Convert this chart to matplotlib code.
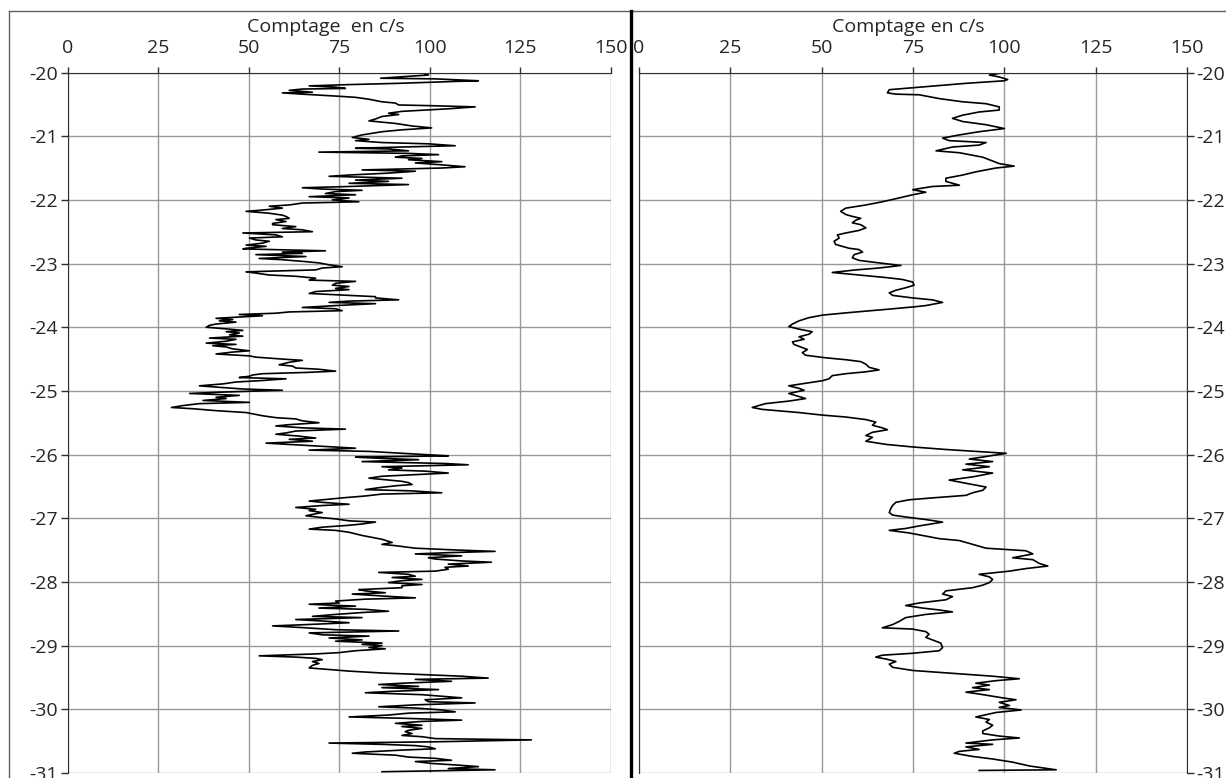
import matplotlib
matplotlib.use("Agg")
import matplotlib.pyplot as plt
from matplotlib.lines import Line2D

left_depth = [
    -20.00, -20.04, -20.06, -20.09, -20.10, -20.13, -20.14, -20.17, -20.19, -20.21,
    -20.23, -20.25, -20.26, -20.28, -20.31, -20.32, -20.34, -20.37, -20.39, -20.42,
    -20.46, -20.48, -20.51, -20.52, -20.54, -20.57, -20.59, -20.61, -20.64, -20.66,
    -20.69, -20.73, -20.76, -20.80, -20.84, -20.87, -20.90, -20.93, -20.98,
    -21.02, -21.05, -21.07, -21.10, -21.12, -21.15, -21.17, -21.19, -21.20, -21.23,
    -21.25, -21.27, -21.29, -21.31, -21.33, -21.35, -21.37, -21.40, -21.42, -21.45,
    -21.48, -21.50, -21.53, -21.55, -21.58, -21.61, -21.63, -21.66, -21.69, -21.71,
    -21.74, -21.76, -21.79, -21.81, -21.83, -21.85, -21.87, -21.90, -21.92, -21.95,
    -21.97, -22.00, -22.03, -22.05, -22.08, -22.10, -22.13, -22.16, -22.18, -22.21,
    -22.24, -22.26, -22.29, -22.31, -22.34, -22.37, -22.39, -22.42, -22.45, -22.47,
    -22.50, -22.52, -22.55, -22.58, -22.60, -22.63, -22.65, -22.68, -22.71, -22.73,
    -22.76, -22.77, -22.80, -22.82, -22.84, -22.86, -22.89, -22.92, -22.94, -22.97,
    -22.99, -23.02, -23.05, -23.07, -23.10, -23.13, -23.15, -23.18, -23.20, -23.23,
    -23.26, -23.28, -23.31, -23.34, -23.36, -23.39, -23.41, -23.44, -23.47, -23.49,
    -23.52, -23.54, -23.57, -23.59, -23.61, -23.63, -23.66, -23.69, -23.71, -23.74,
    -23.76, -23.78, -23.80, -23.82, -23.84, -23.86, -23.88, -23.90, -23.92, -23.95,
    -23.97, -24.00, -24.03, -24.05, -24.07, -24.09, -24.12, -24.14, -24.17, -24.19,
    -24.22, -24.25, -24.27, -24.29, -24.31, -24.34, -24.37, -24.39, -24.42, -24.45,
    -24.47, -24.50, -24.52, -24.55, -24.59, -24.61, -24.64, -24.66, -24.69, -24.71,
    -24.73, -24.75, -24.77, -24.79, -24.81, -24.84, -24.86, -24.89, -24.92, -24.94,
    -24.97, -24.99, -25.02, -25.04, -25.07, -25.10, -25.12, -25.15, -25.18, -25.20,
    -25.23, -25.26, -25.28, -25.31, -25.34, -25.36, -25.39, -25.42, -25.44, -25.47,
    -25.50, -25.53, -25.55, -25.58, -25.60, -25.63, -25.66, -25.68, -25.71, -25.74,
    -25.76, -25.79, -25.82, -25.84, -25.87, -25.90, -25.93, -25.95, -25.98, -26.00,
    -26.02, -26.04, -26.06, -26.08, -26.11, -26.14, -26.16, -26.19, -26.21, -26.24,
    -26.26, -26.29, -26.32, -26.34, -26.37, -26.39, -26.42, -26.44, -26.47, -26.49,
    -26.52, -26.55, -26.57, -26.60, -26.62, -26.65, -26.68, -26.70, -26.73, -26.75,
    -26.78, -26.80, -26.83, -26.86, -26.88, -26.91, -26.93, -26.96, -26.99, -27.01,
    -27.04, -27.06, -27.09, -27.11, -27.14,
    -27.17, -27.19, -27.22, -27.27, -27.33, -27.38, -27.41, -27.43, -27.47, -27.50,
    -27.52, -27.54, -27.56, -27.59, -27.62, -27.64, -27.67, -27.69, -27.72, -27.75,
    -27.77, -27.80, -27.83, -27.85, -27.88, -27.91, -27.93, -27.96, -27.98, -28.01,
    -28.04, -28.06, -28.09, -28.12, -28.14, -28.17, -28.19, -28.22, -28.25, -28.27,
    -28.30, -28.33, -28.35, -28.38, -28.41, -28.43, -28.46, -28.48, -28.51, -28.54,
    -28.56, -28.59, -28.62, -28.64, -28.67, -28.69, -28.72, -28.75, -28.77, -28.80,
    -28.83, -28.85, -28.88, -28.91, -28.93, -28.96, -28.98, -29.00, -29.03, -29.05,
    -29.08, -29.11, -29.13, -29.16, -29.18, -29.20, -29.22, -29.25, -29.28, -29.31,
    -29.35, -29.37, -29.40, -29.43, -29.45, -29.48, -29.51, -29.53, -29.56, -29.59,
    -29.61, -29.64, -29.66, -29.69, -29.72, -29.74, -29.77, -29.80, -29.82, -29.85,
    -29.88, -29.90, -29.93, -29.96, -29.98, -30.01, -30.04, -30.06, -30.09, -30.12,
    -30.14, -30.17, -30.19, -30.22, -30.25, -30.27, -30.30, -30.33, -30.35, -30.38,
    -30.41, -30.43, -30.46, -30.48, -30.51, -30.53, -30.55, -30.57, -30.59, -30.62,
    -30.64, -30.67, -30.69, -30.72, -30.75, -30.77, -30.80, -30.82, -30.85, -30.88,
    -30.90, -30.93, -30.95, -30.98,
]
left_counts = [
    97.8, 99.6, 94.1, 86.4, 101.5, 113.4, 107.0, 91.4, 77.7, 66.7,
    74.0, 76.7, 64.8, 61.2, 67.6, 59.3, 64.8, 74.0, 79.5, 83.2,
    86.8, 90.5, 91.4, 99.6, 112.5, 105.1, 98.7, 92.3, 88.6, 91.4,
    86.8, 85.0, 83.2, 90.5, 95.1, 100.5, 92.3, 86.8, 81.3,
    78.6, 83.2, 79.5, 86.8, 99.6, 107.0, 92.3, 79.5, 88.6, 94.1,
    69.4, 94.1, 102.4, 92.3, 90.5, 97.8, 94.1, 103.3, 96.0, 103.3,
    109.7, 103.3, 81.3, 96.0, 88.6, 77.7, 72.2, 92.3, 79.5, 88.6,
    77.7, 94.1, 77.7, 64.8, 70.3, 81.3, 74.0, 71.2, 79.5, 66.7,
    77.7, 73.1, 80.4, 64.8, 61.2, 55.7, 59.3, 53.8, 49.3, 55.7,
    59.3, 60.3, 61.2, 57.5, 60.3, 56.6, 56.6, 63.0, 59.3, 64.8,
    67.6, 48.4, 57.5, 59.3, 50.2, 52.0, 55.7, 53.8, 49.3, 54.8,
    49.3, 48.4, 71.2, 59.3, 64.8, 52.0, 65.8, 52.9, 59.3, 65.8,
    69.4, 72.2, 75.8, 70.3, 68.5, 49.3, 52.0, 55.7, 63.0, 68.5,
    66.7, 79.5, 74.0, 73.1, 77.7, 74.0, 77.7, 68.5, 66.7, 74.0,
    85.0, 85.0, 91.4, 77.7, 72.2, 85.0, 74.0, 64.8, 74.0, 75.8,
    61.2, 57.5, 47.4, 53.8, 47.4, 41.0, 45.6, 41.9, 46.5, 41.0,
    39.2, 38.3, 44.7, 48.4, 43.8, 47.4, 44.7, 48.4, 39.2, 46.5,
    43.8, 38.3, 46.5, 40.1, 43.8, 45.6, 50.2, 45.6, 41.0, 50.2,
    52.0, 59.3, 64.8, 61.2, 58.4, 62.1, 63.0, 69.4, 74.0, 65.8,
    53.8, 51.1, 50.2, 47.4, 60.3, 52.9, 46.5, 42.9, 36.4, 41.0,
    48.4, 59.3, 41.9, 33.7, 47.4, 41.0, 43.8, 37.4, 50.2, 36.4,
    31.9, 28.7, 34.6, 41.0, 49.3, 51.1, 53.8, 57.5, 63.0, 64.8,
    69.4, 61.2, 57.5, 64.8, 76.7, 63.0, 60.3, 57.5, 63.9, 68.5,
    61.2, 67.6, 54.8, 61.2, 70.3, 79.5, 66.7, 83.2, 92.3, 98.7,
    105.1, 79.5, 86.8, 96.9, 81.3, 104.2, 110.6, 86.8, 92.3, 88.6,
    98.7, 105.1, 94.1, 86.8, 83.2, 86.8, 92.3, 94.1, 95.1, 90.5,
    85.9, 82.2, 95.1, 103.3, 86.8, 82.2, 75.8, 72.2, 66.7, 70.3,
    77.7, 70.3, 63.0, 68.5, 66.7, 70.3, 68.5, 65.8, 70.3, 74.0,
    77.7, 85.0, 81.3, 77.7, 70.3,
    66.7, 74.0, 77.7, 81.3, 86.8, 89.6, 86.8, 90.5, 96.0, 107.9,
    118.0, 105.1, 96.0, 108.8, 99.6, 101.5, 108.8, 117.0, 105.1, 110.6,
    104.2, 105.1, 101.5, 85.9, 94.1, 96.0, 89.6, 97.8, 92.3, 88.6,
    97.8, 92.3, 92.3, 80.4, 82.2, 87.7, 78.6, 86.8, 96.0, 82.2,
    74.0, 74.9, 66.7, 79.5, 69.4, 82.2, 88.6, 81.3, 74.0, 67.6,
    81.3, 63.0, 72.2, 77.7, 65.8, 56.6, 65.8, 74.0, 91.4, 66.7,
    70.3, 83.2, 72.2, 81.3, 74.0, 86.8, 81.3, 86.8, 83.2, 87.7,
    79.5, 74.9, 68.5, 52.9, 63.0, 68.5, 70.3, 67.6, 69.4, 67.6,
    66.7, 71.2, 77.7, 86.8, 96.0, 108.8, 116.1, 96.0, 106.0, 92.3,
    85.9, 96.9, 86.8, 102.4, 88.6, 82.2, 97.8, 104.2, 108.8, 98.7,
    99.6, 112.5, 96.0, 85.9, 96.0, 103.3, 107.0, 94.1, 88.6, 77.7,
    92.3, 108.8, 97.8, 90.5, 97.8, 92.3, 97.8, 94.1, 93.2, 95.1,
    92.3, 97.8, 101.5, 128.0, 101.5, 72.2, 86.8, 96.0, 99.6, 101.5,
    92.3, 82.2, 78.6, 90.5, 94.1, 101.5, 106.0, 96.0, 100.5, 108.8,
    113.4, 105.1, 118.0, 86.8,
]

right_depth = [
    -20.00, -20.04, -20.07, -20.11, -20.13, -20.17, -20.27, -20.32, -20.34, -20.35,
    -20.41, -20.46, -20.49, -20.54, -20.59, -20.62, -20.67, -20.72, -20.77, -20.82,
    -20.88, -20.93, -20.98, -21.03, -21.07, -21.10, -21.14, -21.17, -21.23, -21.26,
    -21.30, -21.33, -21.37, -21.43, -21.47, -21.50, -21.56, -21.61, -21.66, -21.71,
    -21.77, -21.79, -21.84, -21.88, -21.92, -21.97, -22.03, -22.08, -22.13,
    -22.18, -22.23, -22.26, -22.29, -22.32, -22.36, -22.39, -22.44, -22.48, -22.52,
    -22.55, -22.60, -22.65, -22.70, -22.73, -22.76, -22.78, -22.82, -22.86, -22.91,
    -22.95, -22.99, -23.03, -23.07, -23.10, -23.14, -23.16, -23.19, -23.22, -23.25,
    -23.29, -23.34, -23.38, -23.42, -23.46, -23.50, -23.54, -23.57, -23.61, -23.66,
    -23.68, -23.72, -23.77, -23.81, -23.85, -23.90, -23.95, -23.99, -24.03, -24.07,
    -24.11, -24.15, -24.19, -24.23, -24.27, -24.32,
    -24.35, -24.40, -24.44, -24.48, -24.51, -24.54, -24.58, -24.63, -24.67, -24.70,
    -24.73, -24.76, -24.81, -24.84, -24.88, -24.92, -24.96, -24.99, -25.04, -25.08,
    -25.12, -25.16, -25.20, -25.26, -25.29, -25.34, -25.38, -25.41, -25.45, -25.49,
    -25.54, -25.58, -25.61, -25.65, -25.70, -25.73, -25.79, -25.84, -25.88, -25.92,
    -25.96, -25.98, -26.03, -26.07, -26.11, -26.15, -26.19, -26.24, -26.29, -26.35,
    -26.40, -26.45, -26.51,
    -26.56, -26.60, -26.64, -26.68, -26.71, -26.75, -26.80, -26.85, -26.91, -26.95,
    -26.98, -27.02, -27.06, -27.12, -27.16, -27.19, -27.23, -27.27, -27.32, -27.35,
    -27.41, -27.47, -27.51, -27.56, -27.62, -27.65, -27.71, -27.75, -27.79, -27.83,
    -27.88, -27.92, -27.96, -28.01, -28.05, -28.09, -28.14, -28.19, -28.23, -28.28,
    -28.33, -28.37, -28.41, -28.44, -28.47, -28.51, -28.56, -28.62, -28.67, -28.72,
    -28.74, -28.78, -28.82, -28.87, -28.91, -28.96, -29.03, -29.08, -29.12, -29.15,
    -29.18, -29.21, -29.25, -29.29, -29.34, -29.39, -29.42, -29.45, -29.48, -29.52,
    -29.55, -29.59, -29.62, -29.66, -29.69, -29.73, -29.76, -29.82, -29.85, -29.89,
    -29.94, -29.97, -30.01, -30.05, -30.12, -30.16, -30.20, -30.25, -30.29, -30.34,
    -30.38, -30.42, -30.45, -30.48, -30.53, -30.55, -30.59, -30.63, -30.66, -30.69,
    -30.74, -30.78, -30.83, -30.89, -30.95, -30.96,
]
right_counts = [
    100.0, 95.9, 98.6, 100.9, 100.0, 89.5, 68.5, 68.0, 70.3, 76.7,
    82.2, 88.6, 95.0, 98.6, 98.6, 93.1, 88.6, 85.8, 88.6, 95.0,
    100.0, 93.1, 87.7, 83.1, 84.9, 95.0, 93.1, 85.8, 81.3, 87.7,
    91.3, 94.1, 95.9, 98.6, 102.7, 97.7, 92.2, 88.6, 84.0, 84.0,
    87.7, 80.3, 74.9, 78.5, 74.9, 71.2, 66.6, 62.1, 56.6,
    55.2, 56.6, 58.4, 60.7, 59.3, 58.4, 60.7, 62.1, 60.2, 56.6,
    54.3, 54.8, 53.4, 53.8, 55.7, 57.5, 60.2, 61.2, 58.9, 58.4,
    60.2, 65.7, 71.7, 65.7, 59.3, 52.9, 56.6, 62.1, 67.6, 72.1,
    74.9, 75.3, 73.0, 70.3, 68.5, 69.4, 74.9, 80.3, 83.1, 78.5,
    75.3, 67.6, 57.5, 50.2, 46.5, 43.8, 42.0, 41.0, 43.8, 47.4,
    46.5, 43.8, 45.2, 42.0, 42.4, 44.7,
    46.1, 44.7, 45.6, 51.1, 56.6, 60.7, 62.1, 63.0, 65.7, 62.1,
    56.6, 52.9, 52.0, 50.2, 45.6, 41.0, 43.8, 45.2, 41.0, 43.3,
    45.6, 41.0, 34.6, 31.0, 33.7, 43.8, 50.2, 56.6, 62.1, 64.8,
    63.9, 66.6, 68.0, 63.9, 62.1, 63.9, 62.1, 67.6, 74.9, 84.0,
    95.0, 100.5, 95.0, 90.4, 96.8, 89.5, 95.9, 88.6, 96.8, 91.3,
    84.9, 89.5, 95.0,
    94.1, 91.3, 89.5, 80.3, 73.9, 70.3, 69.4, 68.9, 68.5, 69.4,
    73.0, 78.5, 83.1, 76.7, 73.0, 68.5, 73.9, 77.6, 82.2, 87.7,
    91.3, 95.0, 105.9, 107.8, 102.3, 107.8, 109.6, 111.9, 105.9, 101.4,
    93.1, 95.9, 96.8, 95.9, 94.1, 91.3, 84.0, 83.1, 85.8, 84.0,
    76.7, 73.0, 77.6, 82.2, 85.8, 78.5, 73.0, 71.2, 69.4, 66.6,
    74.9, 78.5, 79.4, 78.5, 80.3, 82.6, 83.1, 82.2, 74.9, 66.6,
    64.8, 67.6, 70.3, 68.5, 69.4, 74.9, 82.2, 89.5, 96.8, 104.1,
    97.7, 92.2, 95.9, 91.3, 95.9, 89.5, 93.1, 99.5, 103.2, 98.6,
    101.4, 98.6, 104.6, 97.7, 92.2, 95.9, 95.0, 96.8, 95.9, 94.1,
    94.1, 98.6, 104.1, 96.8, 89.5, 96.8, 89.5, 93.1, 87.7, 86.3,
    91.3, 96.8, 102.3, 106.9, 114.2, 93.1,
]

x_ticks = [0, 25, 50, 75, 100, 125, 150]
depth_ticks = [-20, -21, -22, -23, -24, -25, -26, -27, -28, -29, -30, -31]

W, H = 1226, 778
fig = plt.figure(figsize=(W / 100, H / 100), dpi=100)
fig.patch.set_facecolor("white")
plt.rcParams["font.family"] = ["Open Sans", "DejaVu Sans"]

grid_col = "#999999"
axis_col = "#303030"
text_col = "#262626"


def setup(ax, title, title_x, right):
    ax.set_xlim(0, 150)
    ax.set_ylim(-31, -20)
    ax.set_xticks(x_ticks)
    ax.set_yticks(depth_ticks)
    ax.set_yticklabels([str(d) for d in depth_ticks])
    ax.xaxis.tick_top()
    ax.xaxis.set_label_position("top")
    ax.set_xlabel(title, fontsize=14, color=text_col, labelpad=5, x=title_x)
    if right:
        ax.yaxis.tick_right()
    ax.tick_params(axis="x", direction="out", length=4, width=1,
                   color=axis_col, labelsize=14, labelcolor=text_col, pad=7)
    ax.tick_params(axis="y", direction="out", length=5, width=1,
                   color=axis_col, labelsize=14, labelcolor=text_col, pad=2)
    ax.grid(True, color=grid_col, linewidth=1.0)
    for side in ("bottom", "right", "left", "top"):
        ax.spines[side].set_visible(False)
    ax.spines["top"].set_visible(True)
    ax.spines["top"].set_color(axis_col)
    side = "right" if right else "left"
    ax.spines[side].set_visible(True)
    ax.spines[side].set_color(axis_col)
    ax.set_axisbelow(True)


axL = fig.add_axes([67.5 / W, 5 / H, 543.5 / W, 700.5 / H])
setup(axL, "Comptage  en c/s", 0.476, False)
axL.plot(left_counts, left_depth, color="black", linewidth=1.2)

axR = fig.add_axes([639 / W, 5 / H, 548 / W, 700.5 / H])
setup(axR, "Comptage en c/s", 0.491, True)
axR.spines["left"].set_visible(True)
axR.spines["left"].set_color(axis_col)
axR.plot(right_counts, right_depth, color="black", linewidth=1.2)

# frame of the panels and thick separator between them
fig.add_artist(Line2D([9 / W, 1], [1 - 11 / H] * 2, transform=fig.transFigure,
                      color="#606060", linewidth=1))
fig.add_artist(Line2D([9 / W] * 2, [0, 1 - 11 / H], transform=fig.transFigure,
                      color="#606060", linewidth=1))
fig.add_artist(Line2D([631 / W] * 2, [0, 1 - 11 / H], transform=fig.transFigure,
                      color="black", linewidth=2.4))

fig.savefig("out.png", dpi=100)
